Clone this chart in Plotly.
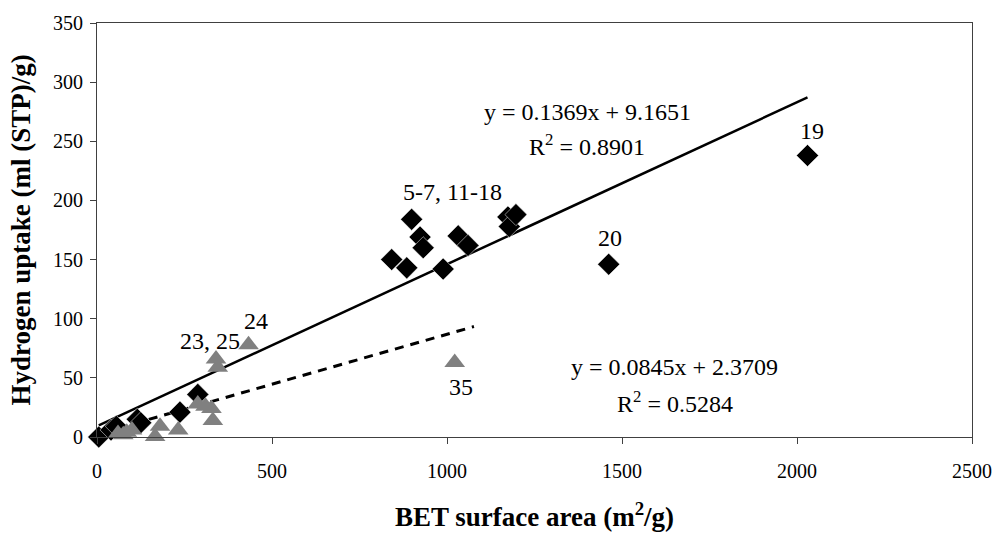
import plotly.graph_objects as go

# Black diamonds (samples 1-20)
bet_black = [5, 40, 55, 115, 125, 237, 288,
             842, 885, 899, 923, 932, 989, 1032, 1060, 1174, 1178, 1197,
             2030, 1462]
h2_black = [0, 6, 9, 15, 12, 21, 36,
            150, 143, 184, 169, 160, 142, 170, 162, 186, 178, 188,
            238, 146]

# Gray triangles (samples 21-35)
bet_gray = [60, 75, 85, 100, 166, 180, 232, 288, 310, 327, 331, 340, 345, 433, 1022]
h2_gray = [3, 2, 4, 6, 0.5, 9, 6, 28, 26, 24, 14, 66, 59, 78, 63]

# Trendline coefficients (as printed on chart)
fit_black = (0.1369, 9.1651, 0.8901)
fit_gray = (0.0845, 2.3709, 0.5284)
gray_forward = 55  # forward extension of gray trendline

x_ticks = [0, 500, 1000, 1500, 2000, 2500]
y_ticks = [0, 50, 100, 150, 200, 250, 300, 350]

FONT = "Liberation Serif"

fig = go.Figure()

# trendlines
xb = [min(bet_black), max(bet_black)]
fig.add_trace(go.Scatter(x=xb, y=[fit_black[0] * v + fit_black[1] for v in xb],
                         mode="lines", line=dict(color="black", width=2.5),
                         hoverinfo="skip", showlegend=False))
xg = [min(bet_gray), max(bet_gray) + gray_forward]
fig.add_trace(go.Scatter(x=xg, y=[fit_gray[0] * v + fit_gray[1] for v in xg],
                         mode="lines", line=dict(color="black", width=3, dash="9px,7px"),
                         hoverinfo="skip", showlegend=False))

fig.add_trace(go.Scatter(x=bet_black, y=h2_black, mode="markers",
                         marker=dict(symbol="diamond", size=17, color="black",
                                     line=dict(color="white", width=0.5)),
                         showlegend=False, cliponaxis=False))
fig.add_trace(go.Scatter(x=bet_gray, y=h2_gray, mode="markers",
                         marker=dict(symbol="triangle-up", size=18, color="#808080",
                                     line=dict(width=0)),
                         showlegend=False, cliponaxis=False))

ann_font = dict(family=FONT, size=24, color="black")
labels = [
    (1400, 275, f"y = {fit_black[0]}x + {fit_black[1]}"),
    (1400, 247, f"R<sup>2</sup> = {fit_black[2]}"),
    (1650, 59, f"y = {fit_gray[0]}x + {fit_gray[1]}"),
    (1650, 30, f"R<sup>2</sup> = {fit_gray[2]}"),
    (2043, 259, "19"),
    (1466, 168, "20"),
    (1015, 207, "5-7, 11-18"),
    (1040, 42, "35"),
    (322, 81, "23, 25"),
    (455, 98, "24"),
]
for x, y, t in labels:
    fig.add_annotation(x=x, y=y, text=t, showarrow=False, font=ann_font,
                       xanchor="center", yanchor="middle")

fig.update_xaxes(range=[0, 2500], tickvals=x_ticks, ticks="outside", ticklen=6,
                 tickcolor="#404040", showline=True, linecolor="#404040", linewidth=1.2,
                 mirror=True, showgrid=False, zeroline=False,
                 tickfont=dict(family=FONT, size=20, color="black"),
                 ticklabelstandoff=10,
                 title=dict(text="<b>BET surface area (m<sup>2</sup>/g)</b>",
                            font=dict(family=FONT, size=27, color="black"), standoff=26))
fig.update_yaxes(range=[0, 350], tickvals=y_ticks, ticks="outside", ticklen=6,
                 tickcolor="#404040", showline=True, linecolor="#404040", linewidth=1.2,
                 mirror=True, showgrid=False, zeroline=False,
                 tickfont=dict(family=FONT, size=20, color="black"),
                 ticklabelstandoff=3,
                 title=dict(text="<b>Hydrogen uptake (ml (STP)/g)</b>",
                            font=dict(family=FONT, size=27, color="black"), standoff=14))

fig.update_layout(width=1004, height=545, plot_bgcolor="white", paper_bgcolor="white",
                  margin=dict(l=97, r=27, t=17, b=108), showlegend=False)

fig.write_html("out.html")
